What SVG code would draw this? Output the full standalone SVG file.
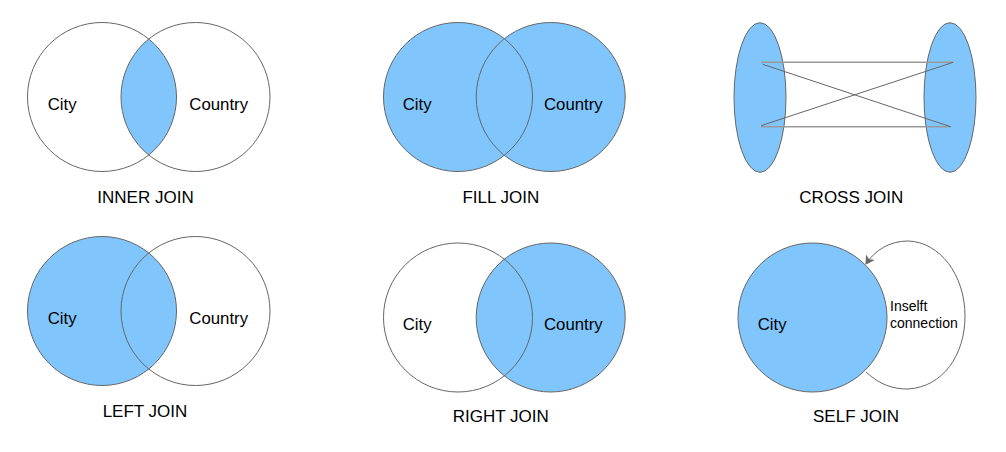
<svg xmlns="http://www.w3.org/2000/svg" width="1006" height="452" viewBox="0 0 1006 452">
<defs>
<style>
.c{stroke:#666;stroke-width:1;}
.f{fill:#80C6FC;}
.w{fill:none;}
.t{font-family:"Liberation Sans",Arial,sans-serif;font-size:16.8px;fill:#000;}
.l{font-family:"Liberation Sans",Arial,sans-serif;font-size:17px;fill:#000;text-anchor:middle;}
.s{font-family:"Liberation Sans",Arial,sans-serif;font-size:14px;fill:#000;}
</style>
<clipPath id="cpInnerL"><circle cx="102" cy="97" r="74.5"/></clipPath>
<marker id="arr" markerWidth="10" markerHeight="10" refX="8" refY="5" orient="auto" markerUnits="userSpaceOnUse">
<path d="M1,1 L8,5 L1,9 L3,5 Z" fill="#666" stroke="#666" stroke-width="1"/>
</marker>
</defs>
<rect width="1006" height="452" fill="#fff"/>

<g id="inner-join">
<circle cx="195.5" cy="97" r="74.5" class="f" clip-path="url(#cpInnerL)"/>
<circle cx="102" cy="97" r="74.5" class="c w"/>
<circle cx="195.5" cy="97" r="74.5" class="c w"/>
<text x="47.7" y="110" class="t">City</text>
<text x="189.3" y="110" class="t">Country</text>
<text x="145.5" y="202.7" class="l">INNER JOIN</text>
</g>

<g id="fill-join">
<circle cx="458" cy="97" r="74.5" class="f"/>
<circle cx="550.7" cy="97" r="74.5" class="f"/>
<circle cx="458" cy="97" r="74.5" class="c w"/>
<circle cx="550.7" cy="97" r="74.5" class="c w"/>
<text x="402.7" y="110" class="t">City</text>
<text x="544" y="110" class="t">Country</text>
<text x="500.8" y="202.7" class="l">FILL JOIN</text>
</g>

<g id="cross-join">
<ellipse cx="760" cy="97.5" rx="26" ry="74.8" class="f c"/>
<ellipse cx="950" cy="97.5" rx="26" ry="74.8" class="f c"/>
<text x="851.3" y="202.7" class="l">CROSS JOIN</text>
</g>

<g id="left-join">
<circle cx="102" cy="311" r="74.5" class="f"/>
<circle cx="195.5" cy="311" r="74.5" class="c w"/>
<circle cx="102" cy="311" r="74.5" class="c w"/>
<text x="47.7" y="324" class="t">City</text>
<text x="189.3" y="324" class="t">Country</text>
<text x="145" y="417.3" class="l">LEFT JOIN</text>
</g>

<g id="right-join">
<circle cx="550.7" cy="317.5" r="74.5" class="f"/>
<circle cx="458" cy="317.5" r="74.5" class="c w"/>
<circle cx="550.7" cy="317.5" r="74.5" class="c w"/>
<text x="402.7" y="330" class="t">City</text>
<text x="544" y="330" class="t">Country</text>
<text x="500.8" y="422.3" class="l">RIGHT JOIN</text>
</g>

<g id="self-join">
<circle cx="812.5" cy="317.5" r="74.5" class="f c"/>
<text x="757.7" y="330" class="t">City</text>
<text x="890" y="311" class="s">Inselft</text>
<text x="890" y="328" class="s">connection</text>
<text x="856" y="422.3" class="l">SELF JOIN</text>
</g>

<g id="connectors" fill="none">
<line x1="761" y1="62.3" x2="953.3" y2="62.3" stroke="#999" stroke-width="1.5"/>
<line x1="761" y1="126.7" x2="950.7" y2="126.7" stroke="#999" stroke-width="1.5"/>
<line x1="762.7" y1="64.3" x2="950.7" y2="126.7" stroke="#666" stroke-width="1"/>
<line x1="761" y1="125.7" x2="953.3" y2="62.3" stroke="#666" stroke-width="1"/>
<path d="M866 372 C880 385 893 389 908 389 C943 387 965 355 965 316 C965 275 940 242 908 241 C890 241 875 250 866 264" stroke="#666" stroke-width="1" marker-end="url(#arr)"/>
</g>
</svg>
